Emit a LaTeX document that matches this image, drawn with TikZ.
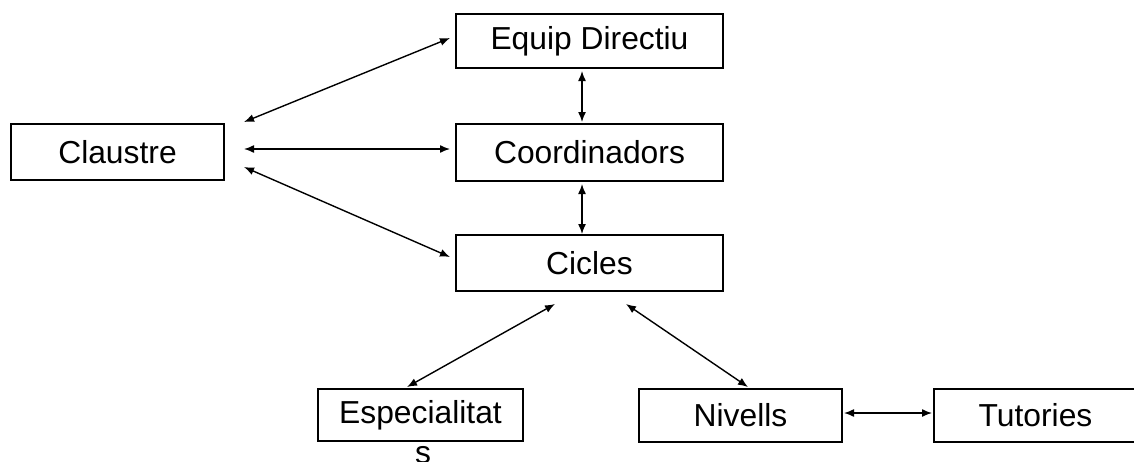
\documentclass[tikz,border=0pt]{standalone}
\usepackage{fontspec}
\setmainfont{Liberation Sans}
\usetikzlibrary{arrows.meta,calc}
\begin{document}
\begin{tikzpicture}[x=0.5pt,y=-0.5pt,
  box/.style={draw=black, line width=1pt, inner sep=0pt, font=\fontsize{15.9}{19}\selectfont},
  big/.style={box, minimum width=133.5pt},
  small/.style={box, minimum width=101.5pt, minimum height=26.5pt},
  arr/.style={line width=0.7pt, {Latex[length=5pt,width=4pt]}-{Latex[length=5pt,width=4pt]}}]
\useasboundingbox (0,0) rectangle (1134,461);
\node[box, minimum width=106.5pt, minimum height=28pt] (claustre) at (117.5,152) {Claustre};
\node[big, minimum height=27pt] (equip) at (589.5,41) {Equip Directiu};
\node[big, minimum height=28.5pt] (coord) at (589.5,152.5) {Coordinadors};
\node[big, minimum height=28pt] (cicles) at (589.5,263) {Cicles};
\node[box, minimum width=102.5pt, minimum height=26pt] (espec) at (420.5,415) {Especialitat};
\node[font=\fontsize{15.9}{19}\selectfont, inner sep=0pt, anchor=base] (espS) at (423,463) {s};
\node[small] (nivells) at (740.5,415.5) {Nivells};
\node[small] (tutories) at (1035.5,415.5) {Tutories};
\draw[arr] ($(claustre.east)+(19,-30)$) -- ($(equip.west)+(-5,-3)$);
\draw[arr] ($(claustre.east)+(19,-3)$) -- ($(coord.west)+(-5,-3.5)$);
\draw[arr] ($(claustre.east)+(19,15)$) -- ($(cicles.west)+(-5,-6)$);
\draw[arr] ($(equip.south)+(-7.5,2)$) -- ($(coord.north)+(-7.5,-1)$);
\draw[arr] ($(coord.south)+(-7.5,2)$) -- ($(cicles.north)+(-7.5,0)$);
\draw[arr] ($(espec.north)+(-13.5,-1)$) -- ($(cicles.south)+(-34.5,12)$);
\draw[arr] ($(nivells.north)+(7.5,-1)$) -- ($(cicles.south)+(36.5,12)$);
\draw[arr] ($(nivells.east)+(1,-2.5)$) -- ($(tutories.west)+(-1,-2.5)$);
\end{tikzpicture}
\end{document}
